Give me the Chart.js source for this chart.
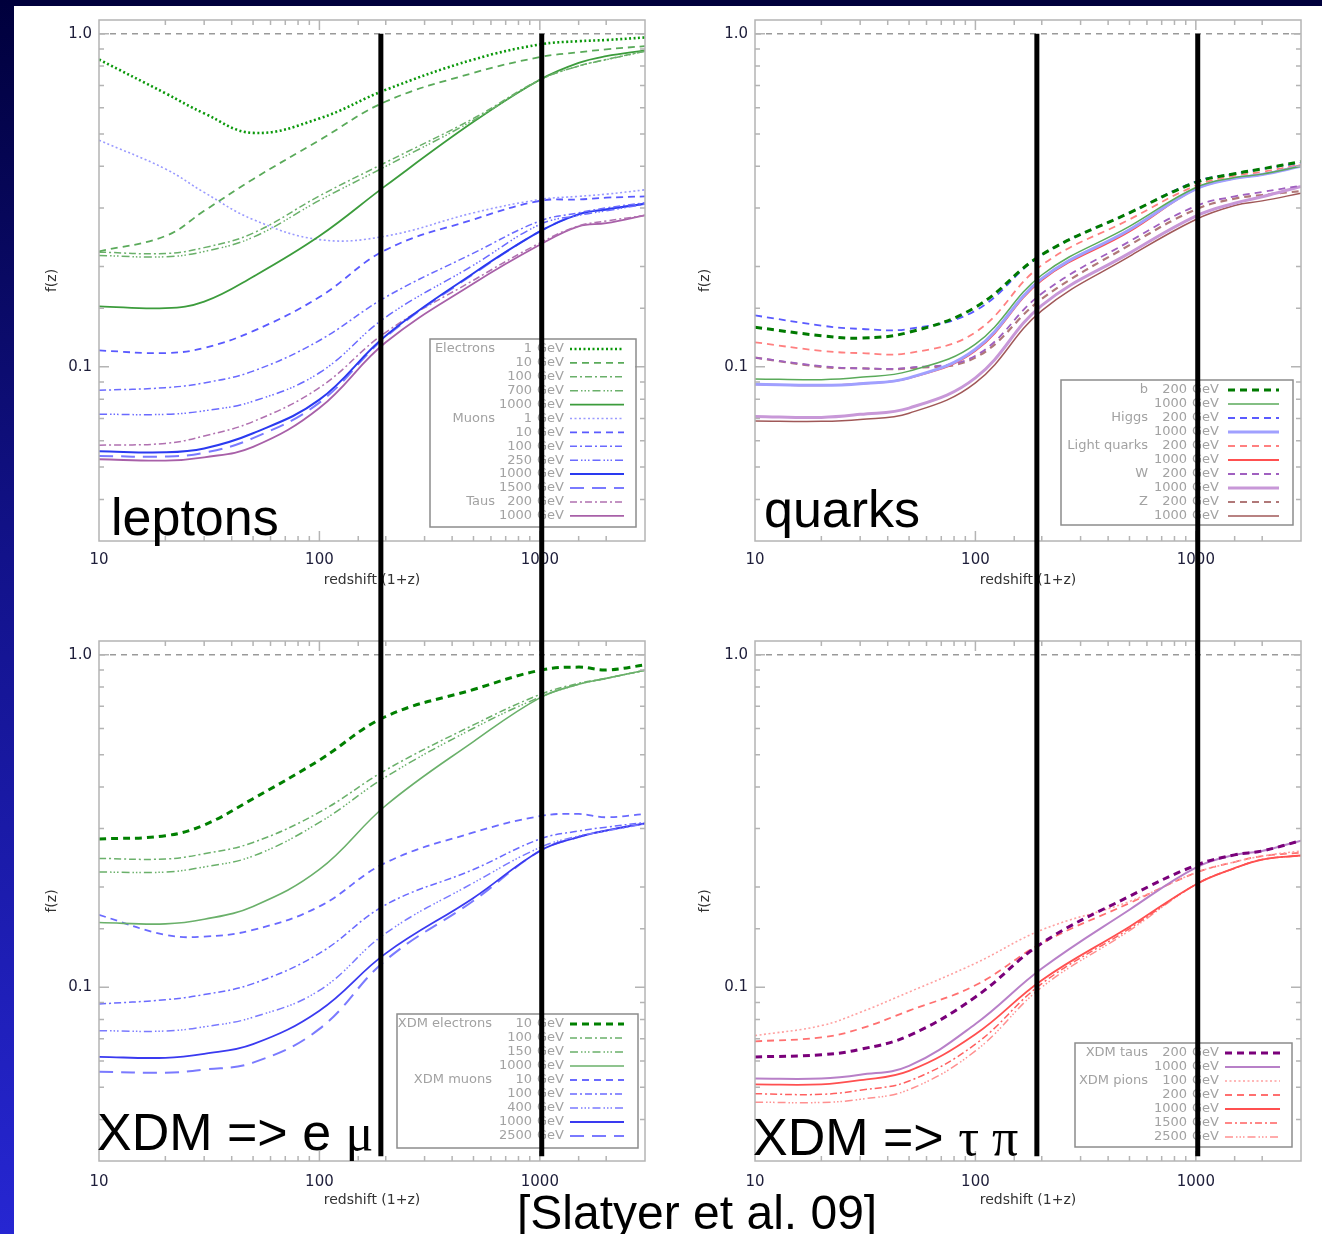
<!DOCTYPE html>
<html><head><meta charset="utf-8">
<script src="https://cdn.jsdelivr.net/npm/chart.js@4.4.1/dist/chart.umd.min.js"></script>
<style>
html,body{margin:0;padding:0;}
body{width:1322px;height:1234px;position:relative;overflow:hidden;background:#fff;font-family:"Liberation Sans",Arial,sans-serif;}
#topband{position:absolute;left:0;top:0;width:1322px;height:6px;background:#00003c;}
#leftband{position:absolute;left:0;top:0;width:14px;height:1234px;background:linear-gradient(#00003c,#12128a 45%,#2626d2);}
canvas{position:absolute;}
.big{position:absolute;font-size:52px;color:#000;line-height:1;white-space:nowrap;font-family:"Liberation Sans",Arial,sans-serif;}
.greek{font-family:"Liberation Serif","Times New Roman",serif;}
</style></head>
<body>
<div id="topband"></div><div id="leftband"></div>
<canvas id="c1" width="630" height="610" style="left:30px;top:10px"></canvas>
<canvas id="c2" width="630" height="610" style="left:690px;top:10px"></canvas>
<canvas id="c3" width="630" height="614" style="left:30px;top:620px"></canvas>
<canvas id="c4" width="630" height="614" style="left:690px;top:620px"></canvas>
<div class="big" style="left:111px;top:491px">leptons</div>
<div class="big" style="left:764px;top:483px">quarks</div>
<div class="big" style="left:97px;top:1106px">XDM =&gt; e <span class="greek">μ</span></div>
<div class="big" style="left:753px;top:1111px">XDM =&gt; <span class="greek">τ π</span></div>
<div class="big" style="left:517px;top:1189px;font-size:48px">[Slatyer et al. 09]</div>
<script>
// ---------- data ----------
const redshift = [10, 20, 30, 50, 100, 200, 500, 1000, 1500, 2000, 3000];
const xRange = [10, 3000];
const yRange = [0.03, 1.1];
const xTickValues = [10, 100, 1000];
const yTickValues = [0.1, 1.0];
const yTickText = ['0.1', '1.0'];
const unityLevel = 1.0;
const markerRedshifts = [190, 1020];
const markerBottomLevel = 0.031;

// leptons panel
const leptonGroups = ['Electrons','','','','','Muons','','','','','','Taus',''];
const leptonMasses = ['1','10','100','700','1000','1','10','100','250','1000','1500','200','1000'];
const lepE1    = [0.837, 0.663, 0.577, 0.504, 0.557, 0.679, 0.837, 0.929, 0.950, 0.958, 0.975];
const lepE10   = [0.222, 0.247, 0.294, 0.366, 0.479, 0.626, 0.763, 0.851, 0.880, 0.898, 0.918];
const lepE100  = [0.221, 0.219, 0.228, 0.252, 0.326, 0.411, 0.557, 0.728, 0.800, 0.837, 0.887];
const lepE700  = [0.216, 0.214, 0.222, 0.245, 0.316, 0.400, 0.550, 0.726, 0.800, 0.836, 0.886];
const lepE1000 = [0.152, 0.150, 0.157, 0.1865, 0.247, 0.350, 0.544, 0.728, 0.818, 0.857, 0.892];
const lepM1    = [0.479, 0.393, 0.334, 0.277, 0.241, 0.247, 0.290, 0.318, 0.325, 0.330, 0.340];
const lepM10   = [0.112, 0.110, 0.114, 0.128, 0.162, 0.2245, 0.277, 0.315, 0.318, 0.322, 0.325];
const lepM100  = [0.085, 0.0866, 0.0895, 0.0971, 0.120, 0.162, 0.2195, 0.274, 0.290, 0.300, 0.311];
const lepM250  = [0.0721, 0.0720, 0.0738, 0.0788, 0.096, 0.141, 0.202, 0.2676, 0.285, 0.294, 0.308];
const lepM1000 = [0.0558, 0.0554, 0.0569, 0.0632, 0.0797, 0.124, 0.191, 0.255, 0.287, 0.297, 0.309];
const lepM1500 = [0.0540, 0.0538, 0.0552, 0.0611, 0.0781, 0.123, 0.190, 0.255, 0.287, 0.297, 0.309];
const lepT200  = [0.0582, 0.0589, 0.0620, 0.0685, 0.0866, 0.127, 0.182, 0.2355, 0.265, 0.274, 0.285];
const lepT1000 = [0.0528, 0.0523, 0.0535, 0.0575, 0.0752, 0.1185, 0.178, 0.2326, 0.264, 0.270, 0.285];

// quarks panel
const quarkGroups = ['b','','Higgs','','Light quarks','','W','','Z',''];
const quarkMasses = ['200','1000','200','1000','200','1000','200','1000','200','1000'];
const qB200    = [0.1315, 0.124, 0.122, 0.127, 0.151, 0.217, 0.290, 0.358, 0.380, 0.393, 0.4135];
const qB1000   = [0.092, 0.0915, 0.093, 0.0971, 0.117, 0.1887, 0.264, 0.3455, 0.370, 0.379, 0.400];
const qH200    = [0.1427, 0.133, 0.130, 0.130, 0.1475, 0.217, 0.290, 0.360, 0.380, 0.393, 0.410];
const qH1000   = [0.0886, 0.088, 0.089, 0.0927, 0.1129, 0.184, 0.258, 0.342, 0.368, 0.378, 0.400];
const qL200    = [0.1185, 0.1117, 0.110, 0.110, 0.127, 0.202, 0.277, 0.350, 0.375, 0.385, 0.405];
const qL1000   = [0.0886, 0.088, 0.089, 0.0925, 0.1117, 0.182, 0.255, 0.342, 0.368, 0.378, 0.403];
const qW200    = [0.1066, 0.1005, 0.099, 0.0994, 0.108, 0.166, 0.238, 0.304, 0.325, 0.335, 0.350];
const qW1000   = [0.0710, 0.0705, 0.072, 0.0752, 0.0927, 0.153, 0.2195, 0.2835, 0.310, 0.324, 0.348];
const qZ200    = [0.1066, 0.1000, 0.099, 0.099, 0.1066, 0.160, 0.232, 0.297, 0.320, 0.328, 0.337];
const qZ1000   = [0.0688, 0.0686, 0.0695, 0.0726, 0.0895, 0.1475, 0.2146, 0.277, 0.305, 0.315, 0.332];

// XDM e mu panel
const xemGroups = ['XDM electrons','','','','XDM muons','','','',''];
const xemMasses = ['10','100','150','1000','10','100','400','1000','2500'];
const xE10     = [0.279, 0.2855, 0.3076, 0.369, 0.482, 0.652, 0.786, 0.898, 0.918, 0.900, 0.932];
const xE100    = [0.244, 0.243, 0.252, 0.2725, 0.336, 0.450, 0.615, 0.759, 0.820, 0.849, 0.898];
const xE150    = [0.222, 0.222, 0.230, 0.248, 0.313, 0.429, 0.601, 0.745, 0.815, 0.849, 0.898];
const xE1000   = [0.1565, 0.155, 0.160, 0.175, 0.226, 0.352, 0.548, 0.742, 0.815, 0.849, 0.898];
const xM10     = [0.165, 0.1437, 0.142, 0.1487, 0.175, 0.237, 0.292, 0.327, 0.332, 0.3245, 0.332];
const xM100    = [0.089, 0.0917, 0.095, 0.1025, 0.1264, 0.177, 0.226, 0.279, 0.295, 0.303, 0.313];
const xM400    = [0.074, 0.0738, 0.076, 0.0812, 0.0978, 0.1454, 0.206, 0.263, 0.285, 0.295, 0.310];
const xM1000   = [0.0617, 0.0613, 0.063, 0.0674, 0.085, 0.1264, 0.1856, 0.257, 0.283, 0.296, 0.311];
const xM2500   = [0.0557, 0.0553, 0.0565, 0.0593, 0.0749, 0.1206, 0.182, 0.257, 0.283, 0.296, 0.311];

// XDM tau pi panel
const xtpGroups = ['XDM taus','','XDM pions','','','',''];
const xtpMasses = ['200','1000','100','200','1000','1500','2500'];
const xT200    = [0.0617, 0.0626, 0.065, 0.0715, 0.0934, 0.1356, 0.1877, 0.2326, 0.250, 0.257, 0.276];
const xT1000   = [0.0531, 0.0531, 0.0545, 0.058, 0.0775, 0.1138, 0.171, 0.229, 0.250, 0.257, 0.276];
const xP100    = [0.0715, 0.0766, 0.084, 0.0967, 0.118, 0.1487, 0.181, 0.221, 0.238, 0.248, 0.257];
const xP200    = [0.0687, 0.0706, 0.075, 0.085, 0.1013, 0.1356, 0.179, 0.221, 0.238, 0.248, 0.254];
const xP1000   = [0.051, 0.051, 0.0525, 0.056, 0.0722, 0.105, 0.152, 0.2037, 0.228, 0.242, 0.249];
const xP1500   = [0.0478, 0.0476, 0.049, 0.0522, 0.0674, 0.1025, 0.150, 0.2037, 0.228, 0.242, 0.249];
const xP2500   = [0.0451, 0.045, 0.046, 0.0492, 0.0643, 0.100, 0.148, 0.2037, 0.228, 0.242, 0.249];

// ---------- styles ----------
const dashes = {
  dot: [2, 2.5], dash: [7, 5], dashdot: [7, 3, 2, 3],
  dash3: [8, 3, 1.5, 2, 1.5, 2, 1.5, 3], long: [14, 8], solid: []
};
const leptonStyles = [
  ['#0a980a',2.6,'dot'],['#5aaa5a',1.8,'dash'],['#6ab06a',1.5,'dashdot'],['#6ab06a',1.5,'dash3'],['#3c9c3c',1.8,'solid'],
  ['#9a9aff',1.6,'dot'],['#5a5aff',1.8,'dash'],['#6a6aff',1.5,'dashdot'],['#6a6aff',1.5,'dash3'],['#2a3af0',2,'solid'],['#7a7aff',2,'long'],
  ['#b070b0',1.5,'dashdot'],['#a860a8',1.8,'solid']
];
const quarkStyles = [
  ['#007a00',3,'dash'],['#5aaa5a',1.5,'solid'],['#5a5aff',1.8,'dash'],['#a0a0ff',3,'solid'],['#ff8080',1.8,'dash'],
  ['#ff5050',1.8,'solid'],['#a060c0',1.8,'dash'],['#c898d8',3,'solid'],['#b07878',2.2,'dash'],['#a05858',1.5,'solid']
];
const xemStyles = [
  ['#008000',3,'dash'],['#6ab06a',1.5,'dashdot'],['#6ab06a',1.5,'dash3'],['#6ab06a',1.6,'solid'],
  ['#6a6aff',1.8,'dash'],['#6a6aff',1.5,'dashdot'],['#7a7aff',1.5,'dash3'],['#3a3af0',1.8,'solid'],['#7a7aff',2,'long']
];
const xtpStyles = [
  ['#7a007a',3,'dash'],['#b880c8',2,'solid'],['#ffa0a0',1.6,'dot'],['#ff7070',1.8,'dash'],
  ['#ff5050',1.8,'solid'],['#ff6060',1.5,'dashdot'],['#ff9090',1.5,'dash3']
];

function isDecade(v){ const l = Math.log10(v); return Math.abs(l - Math.round(l)) < 1e-6; }

const decoPlugin = {
  id: 'deco',
  afterDatasetsDraw(chart) {
    const o = chart.options.plugins.deco;
    const {ctx, chartArea: ca} = chart;
    const xs = chart.scales.x, ys = chart.scales.y;
    ctx.save();
    ctx.strokeStyle = '#b4b4b4'; ctx.lineWidth = 1.5; ctx.setLineDash([]);
    ctx.strokeRect(ca.left, ca.top, ca.right - ca.left, ca.bottom - ca.top);
    ctx.beginPath();
    xs.ticks.forEach(t => {
      const px = xs.getPixelForValue(t.value);
      if (px < ca.left + 1 || px > ca.right - 1) return;
      const L = isDecade(t.value) ? 10 : 5;
      ctx.moveTo(px, ca.bottom); ctx.lineTo(px, ca.bottom - L);
      ctx.moveTo(px, ca.top); ctx.lineTo(px, ca.top + L);
    });
    ys.ticks.forEach(t => {
      const py = ys.getPixelForValue(t.value);
      if (py < ca.top + 1 || py > ca.bottom - 1) return;
      const L = isDecade(t.value) ? 10 : 5;
      ctx.moveTo(ca.left, py); ctx.lineTo(ca.left + L, py);
      ctx.moveTo(ca.right, py); ctx.lineTo(ca.right - L, py);
    });
    ctx.stroke();
    const lg = o.legend;
    const x0 = ca.right - lg.right - lg.width, y0 = ca.bottom - lg.bottom - lg.height;
    ctx.strokeStyle = '#8c8c8c'; ctx.lineWidth = 1.5;
    ctx.strokeRect(x0, y0, lg.width, lg.height);
    ctx.font = '13px "DejaVu Sans"'; ctx.fillStyle = '#a2a2a2'; ctx.textBaseline = 'middle';
    o.groups.forEach((g, i) => {
      const y = y0 + lg.first + i * lg.rowH;
      ctx.textAlign = 'right';
      if (g) ctx.fillText(g, x0 + lg.groupX, y);
      ctx.fillText(o.masses[i], x0 + lg.numX, y);
      ctx.textAlign = 'left';
      ctx.fillText('GeV', x0 + lg.gevX, y);
      const [c, w, d] = o.styles[i];
      ctx.beginPath(); ctx.strokeStyle = c; ctx.lineWidth = w; ctx.setLineDash(dashes[d]);
      ctx.moveTo(x0 + lg.s0, y); ctx.lineTo(x0 + lg.s1, y); ctx.stroke();
    });
    ctx.restore();
  },
  afterDraw(chart) {
    const o = chart.options.plugins.deco;
    const {ctx} = chart; const xs = chart.scales.x, ys = chart.scales.y;
    ctx.save();
    ctx.strokeStyle = '#000'; ctx.lineWidth = 5; ctx.setLineDash([]);
    markerRedshifts.forEach(z => {
      const px = xs.getPixelForValue(z);
      const yTop = o.isTop ? ys.getPixelForValue(unityLevel) : 0;
      const yBot = o.isTop ? chart.height : ys.getPixelForValue(markerBottomLevel);
      ctx.beginPath(); ctx.moveTo(px, yTop); ctx.lineTo(px, yBot); ctx.stroke();
    });
    ctx.restore();
  }
};

function makeChart(id, cfg) {
  const canvas = document.getElementById(id);
  const datasets = cfg.series.map((data, i) => {
    const [color, width, dk] = cfg.styles[i];
    return {
      label: (cfg.groups[i] ? cfg.groups[i] + ' ' : '') + cfg.masses[i] + ' GeV',
      data: redshift.map((z, k) => ({x: z, y: data[k]})),
      borderColor: color, borderWidth: width, borderDash: dashes[dk],
      borderCapStyle: 'butt', pointRadius: 0, fill: false, tension: 0.4
    };
  });
  datasets.unshift({
    label: 'f = 1', data: xRange.map(z => ({x: z, y: unityLevel})),
    borderColor: '#9a9a9a', borderWidth: 1.6, borderDash: [6, 5], pointRadius: 0, fill: false
  });
  const tickFont = {family: 'DejaVu Sans', size: 15};
  const titleFont = {family: 'DejaVu Sans', size: 14};
  const chart = new Chart(canvas, {
    type: 'line',
    data: {datasets},
    plugins: [decoPlugin],
    options: {
      responsive: false, maintainAspectRatio: false, animation: false, devicePixelRatio: 1,
      layout: {padding: cfg.padding},
      plugins: {
        legend: {display: false}, tooltip: {enabled: false},
        deco: {legend: cfg.legend, groups: cfg.groups, masses: cfg.masses, styles: cfg.styles, isTop: cfg.isTop}
      },
      scales: {
        x: {
          type: 'logarithmic', min: xRange[0], max: xRange[1],
          grid: {display: false, drawTicks: false}, border: {display: false},
          ticks: {
            autoSkip: false, maxRotation: 0, font: tickFont, color: '#1e1e3a', padding: cfg.xTickPad,
            callback: v => { const t = xTickValues.find(t => Math.abs(t - v) / t < 1e-6); return t ? String(t) : ''; }
          },
          title: {display: true, text: 'redshift (1+z)', font: titleFont, color: '#333', padding: {top: 0, bottom: cfg.xTitlePad}},
          afterFit: s => { s.height = cfg.xHeight; }
        },
        y: {
          type: 'logarithmic', min: yRange[0], max: yRange[1],
          grid: {display: false, drawTicks: false}, border: {display: false},
          ticks: {
            autoSkip: false, font: tickFont, color: '#1e1e3a', padding: 7,
            callback: v => { const i = yTickValues.findIndex(t => Math.abs(t - v) / t < 1e-6); return i >= 0 ? yTickText[i] : ''; }
          },
          title: {display: true, text: 'f(z)', font: titleFont, color: '#333', padding: {top: cfg.yTitlePad, bottom: 0}},
          afterFit: s => { s.width = cfg.yWidth; }
        }
      }
    }
  });
  // place the canvas so the plot area lands on the wanted page rectangle
  const t = chart.chartArea.top;
  const canvasTop = cfg.areaTop - t;
  const h = cfg.areaBottom - canvasTop + cfg.xHeight;
  canvas.style.top = canvasTop + 'px';
  chart.resize(630, h);
  return chart;
}

makeChart('c1', {
  series: [lepE1, lepE10, lepE100, lepE700, lepE1000, lepM1, lepM10, lepM100, lepM250, lepM1000, lepM1500, lepT200, lepT1000],
  groups: leptonGroups, masses: leptonMasses, styles: leptonStyles, isTop: true, areaTop: 20, areaBottom: 541,
  padding: {left: 0, top: 0, right: 15, bottom: 0}, yWidth: 69, xHeight: 79, xTickPad: 10, xTitlePad: 31, yTitlePad: 14,
  legend: {right: 9, bottom: 14, width: 206, height: 188, first: 10, rowH: 13.9, groupX: 65, numX: 102, gevX: 107, s0: 140, s1: 194}
});
makeChart('c2', {
  series: [qB200, qB1000, qH200, qH1000, qL200, qL1000, qW200, qW1000, qZ200, qZ1000],
  groups: quarkGroups, masses: quarkMasses, styles: quarkStyles, isTop: true, areaTop: 20, areaBottom: 541,
  padding: {left: 0, top: 0, right: 19, bottom: 0}, yWidth: 65, xHeight: 79, xTickPad: 10, xTitlePad: 31, yTitlePad: 7,
  legend: {right: 8, bottom: 16, width: 232, height: 145, first: 10, rowH: 14, groupX: 87, numX: 126, gevX: 131, s0: 167, s1: 218}
});
makeChart('c3', {
  series: [xE10, xE100, xE150, xE1000, xM10, xM100, xM400, xM1000, xM2500],
  groups: xemGroups, masses: xemMasses, styles: xemStyles, isTop: false, areaTop: 641, areaBottom: 1161,
  padding: {left: 0, top: 21, right: 15, bottom: 0}, yWidth: 69, xHeight: 73, xTickPad: 12, xTitlePad: 25, yTitlePad: 14,
  legend: {right: 7, bottom: 13, width: 241, height: 134, first: 10, rowH: 14, groupX: 95, numX: 135, gevX: 140, s0: 173, s1: 227}
});
makeChart('c4', {
  series: [xT200, xT1000, xP100, xP200, xP1000, xP1500, xP2500],
  groups: xtpGroups, masses: xtpMasses, styles: xtpStyles, isTop: false, areaTop: 641, areaBottom: 1161,
  padding: {left: 0, top: 21, right: 19, bottom: 0}, yWidth: 65, xHeight: 73, xTickPad: 12, xTitlePad: 25, yTitlePad: 7,
  legend: {right: 9, bottom: 14, width: 217, height: 104, first: 10, rowH: 14, groupX: 73, numX: 112, gevX: 117, s0: 150, s1: 205}
});
</script>
</body></html>
